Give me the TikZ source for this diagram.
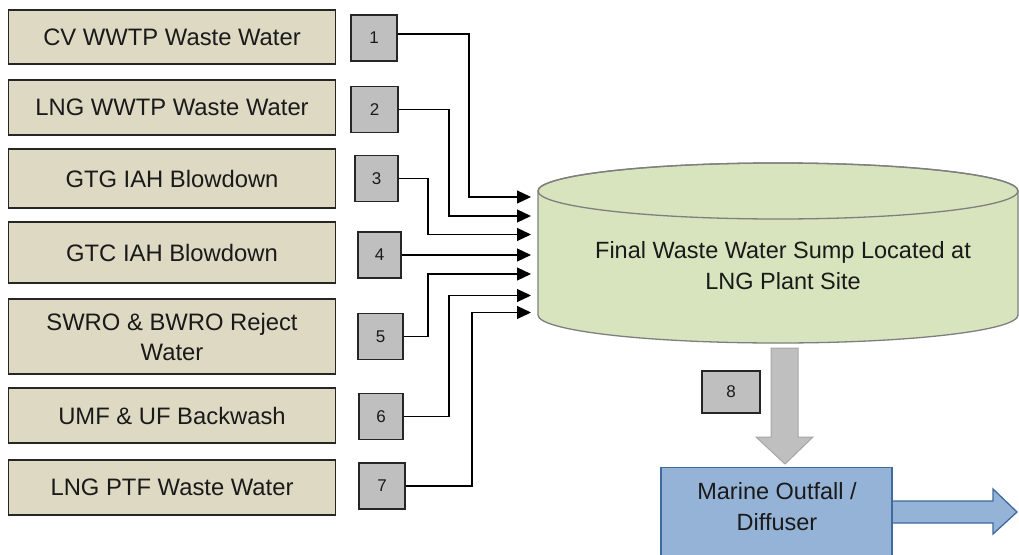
\documentclass[tikz,border=0pt]{standalone}
\usepackage{fontspec}
\setmainfont{Liberation Sans}
\usetikzlibrary{arrows.meta}
\definecolor{tanbg}{HTML}{DDD9C3}
\definecolor{numgray}{HTML}{BFBFBF}
\definecolor{sumpgreen}{HTML}{D7E4BD}
\definecolor{sumpline}{HTML}{7F7F7F}
\definecolor{outblue}{HTML}{95B3D7}
\definecolor{outline}{HTML}{3F6A9E}
\definecolor{txt}{HTML}{1A1A1A}
\begin{document}
\begin{tikzpicture}[x=1pt,y=-1pt,
  srcbox/.style={draw=black!85, line width=1.3pt, fill=tanbg, minimum width=327pt,
    text=txt, font=\fontsize{23.8}{30}\selectfont, align=center, inner sep=0pt},
  numbox/.style={draw=black!85, line width=1.3pt, fill=numgray, minimum width=45pt,
    minimum height=46pt, text=txt, font=\fontsize{17}{20}\selectfont, inner sep=0pt},
  flow/.style={draw=black, line width=1.2pt, -{Triangle[length=14pt,width=13pt]}},
  bigtext/.style={text=txt, font=\fontsize{23.5}{31}\selectfont, align=center}]
\useasboundingbox (0,0) rectangle (1019,554);
\fill[white] (0,0) rectangle (1019,554);

% source boxes
\node[srcbox, minimum height=54pt] (s1) at (172,37) {CV WWTP Waste Water};
\node[srcbox, minimum height=55pt] (s2) at (172,107.5) {LNG WWTP Waste Water};
\node[srcbox, minimum height=59pt] (s3) at (172,178.5) {GTG IAH Blowdown};
\node[srcbox, minimum height=61pt] (s4) at (172,252.5) {GTC IAH Blowdown};
\node[srcbox, minimum height=75pt] (s5) at (172,336.5) {SWRO \& BWRO Reject\\Water};
\node[srcbox, minimum height=55pt] (s6) at (172,415.5) {UMF \& UF Backwash};
\node[srcbox, minimum height=55pt] (s7) at (172,487.5) {LNG PTF Waste Water};

% number boxes
\node[numbox, minimum width=46pt] (n1) at (374,38) {1};
\node[numbox, minimum width=47pt] (n2) at (374.5,109.5) {2};
\node[numbox, minimum width=43pt] (n3) at (376.5,178.5) {3};
\node[numbox, minimum width=43pt] (n4) at (379.5,255) {4};
\node[numbox] (n5) at (380.5,336.5) {5};
\node[numbox, minimum width=44pt] (n6) at (381,416.5) {6};
\node[numbox, minimum width=46pt] (n7) at (382,486) {7};
\node[numbox, minimum width=58pt, minimum height=42pt] (n8) at (731,392) {8};

% sump cylinder
\path[fill=sumpgreen, draw=sumpline, line width=1.3pt]
  (538,191) -- (538,315) arc[start angle=180, end angle=360, x radius=240pt, y radius=28pt]
  -- (1018,191) arc[start angle=0, end angle=180, x radius=240pt, y radius=28pt] -- cycle;
\draw[sumpline, line width=1.3pt] (778,191) ellipse[x radius=240pt, y radius=28pt];
\node[bigtext] (sump) at (783,266) {Final Waste Water Sump Located at\\LNG Plant Site};

% arrow end points
\coordinate (a1) at (531,197);
\coordinate (a2) at (531,216);
\coordinate (a3) at (531,234.5);
\coordinate (a4) at (531,254.5);
\coordinate (a5) at (531,274);
\coordinate (a6) at (531,295.5);
\coordinate (a7) at (531,312.5);
\coordinate (j1) at (469,197);
\coordinate (j2) at (449,216);
\coordinate (j3) at (428,234.5);
\coordinate (j5) at (428,274);
\coordinate (j6) at (449,295.5);
\coordinate (j7) at (472,312.5);

\draw[flow] ([yshift=4pt]n1.east) -| (j1) -- (a1);
\draw[flow] (n2.east) -| (j2) -- (a2);
\draw[flow] (n3.east) -| (j3) -- (a3);
\draw[flow] (n4.east) -- (n4.east -| a4);
\draw[flow] (n5.east) -| (j5) -- (a5);
\draw[flow] (n6.east) -| (j6) -- (a6);
\draw[flow] (n7.east) -| (j7) -- (a7);

% grey block arrow down
\path[fill=numgray, draw=black!35, line width=1pt]
  (771,348) -- (798,348) -- (798,437) -- (813,437) -- (785,464) -- (756,437) -- (771,437) -- cycle;

% outlet arrow to the right
\path[fill=outblue, draw=outline, line width=1.3pt]
  (880,501) -- (993,501) -- (993,489) -- (1017,512) -- (993,534) -- (993,523) -- (880,523) -- cycle;

% marine outfall box
\node[draw=outline, line width=1.3pt, fill=outblue, minimum width=231pt, minimum height=100pt,
  anchor=north, inner sep=0pt] (out) at (776.5,467) {};
\node[bigtext, anchor=north] (outtxt) at (777,479) {Marine Outfall /\\Diffuser};
\end{tikzpicture}
\end{document}
